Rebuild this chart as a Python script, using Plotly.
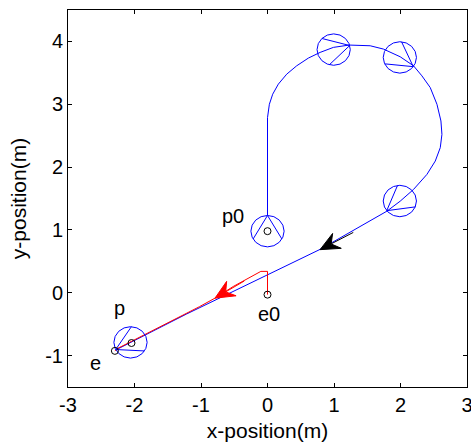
import numpy as np
import plotly.graph_objects as go

# ---------------- data ----------------
# Pursuer front-point trajectory (blue)
pursuer_x = [0.0, 0.0, 0.028, 0.078, 0.163, 0.289, 0.439, 0.615, 0.791, 0.991, 1.227,
             1.393, 1.544, 1.744, 1.995, 2.196, 2.322, 2.447, 2.548, 2.608, 2.623,
             2.598, 2.523, 2.397, 2.196, 1.995, 1.795, 0.79, 0.0, -1.22, -2.28]
pursuer_y = [1.23, 2.787, 3.0, 3.16, 3.32, 3.479, 3.612, 3.735, 3.825, 3.905, 3.942,
             3.942, 3.931, 3.878, 3.756, 3.612, 3.452, 3.266, 3.0, 2.734, 2.521,
             2.309, 2.096, 1.883, 1.644, 1.457, 1.298, 0.69, 0.29, -0.34, -0.91]

# Evader trajectory (red)
evader_x = [0.0, 0.0, -0.1, -0.515, -0.79, -1.02, -2.25, -2.295]
evader_y = [-0.03, 0.34, 0.34, 0.10, -0.086, -0.22, -0.884, -0.925]

# Robot body snapshots (centre, heading)
robot_cx = [0.0, 0.995, 1.99, 1.99, -2.06]
robot_cy = [0.98, 3.87, 3.745, 1.46, -0.79]
robot_heading_deg = [90, 15, -36, 218, 207]
robot_radius = 0.25

# Small position markers
marker_x = [0.0, 0.0, -2.045, -2.295]
marker_y = [0.98, -0.03, -0.80, -0.925]

# Point labels
label_text = ["p0", "e0", "p", "e"]
label_x = [-0.515, 0.027, -2.23, -2.59]
label_y = [1.22, -0.34, -0.246, -1.11]

# Direction arrows (tail -> tip)
arrow_tail_x = [1.29, -0.35]
arrow_tail_y = [0.96, 0.186]
arrow_tip_x = [0.79, -0.79]
arrow_tip_y = [0.686, -0.086]
arrow_color = ["black", "red"]

# Axis ticks
x_ticks = [-3, -2, -1, 0, 1, 2, 3]
x_tick_text = ["-3", "-2", "-1", "0", "1", "2", "3"]
y_ticks = [-1, 0, 1, 2, 3, 4]
y_tick_text = ["-1", "0", "1", "2", "3", "4"]

BLUE = "#0000ff"
RED = "#ff0000"
FONT = "Liberation Sans, Arial, sans-serif"

fig = go.Figure()

# trajectories
fig.add_trace(go.Scatter(x=pursuer_x, y=pursuer_y, mode="lines",
                         line=dict(color=BLUE, width=1), hoverinfo="skip"))
fig.add_trace(go.Scatter(x=evader_x, y=evader_y, mode="lines",
                         line=dict(color=RED, width=1), hoverinfo="skip"))

# robot bodies: circle + V from the front vertex
theta = np.linspace(0, 2 * np.pi, 17)
for cx, cy, hd in zip(robot_cx, robot_cy, robot_heading_deg):
    fig.add_trace(go.Scatter(x=cx + robot_radius * np.cos(theta),
                             y=cy + robot_radius * np.sin(theta),
                             mode="lines", line=dict(color=BLUE, width=1),
                             hoverinfo="skip"))
    a = np.deg2rad(np.array([hd + 120, hd, hd - 120]))
    fig.add_trace(go.Scatter(x=cx + robot_radius * np.cos(a),
                             y=cy + robot_radius * np.sin(a),
                             mode="lines", line=dict(color=BLUE, width=1),
                             hoverinfo="skip"))

# arrows
L, W, N = 0.29, 0.135, 0.19
for tx, ty, hx, hy, c in zip(arrow_tail_x, arrow_tail_y, arrow_tip_x, arrow_tip_y, arrow_color):
    u = np.array([hx - tx, hy - ty])
    u = u / np.linalg.norm(u)
    n = np.array([-u[1], u[0]])
    tip = np.array([hx, hy])
    b1 = tip - L * u + W * n
    nt = tip - N * u
    b2 = tip - L * u - W * n
    fig.add_trace(go.Scatter(x=[tx, nt[0]], y=[ty, nt[1]], mode="lines",
                             line=dict(color=c, width=1), hoverinfo="skip"))
    poly = np.array([tip, b1, nt, b2, tip])
    fig.add_trace(go.Scatter(x=poly[:, 0], y=poly[:, 1], mode="lines",
                             fill="toself", fillcolor=c,
                             line=dict(color=c, width=1), hoverinfo="skip"))

# markers
fig.add_trace(go.Scatter(x=marker_x, y=marker_y, mode="markers",
                         marker=dict(symbol="circle-open", size=7,
                                     color="black", line=dict(width=1)),
                         hoverinfo="skip"))

# labels
for t, lx, ly in zip(label_text, label_x, label_y):
    fig.add_annotation(x=lx, y=ly, text=t, showarrow=False,
                       font=dict(family=FONT, size=20, color="black"),
                       xanchor="center", yanchor="middle")

axis_common = dict(showgrid=False, zeroline=False, showline=True,
                   linecolor="black", linewidth=1, mirror="ticks",
                   ticks="inside", ticklen=4, tickwidth=1, tickcolor="black",
                   ticklabeloverflow="allow",
                   tickfont=dict(family=FONT, size=20, color="black"))

fig.update_layout(
    width=471, height=443,
    margin=dict(l=68, r=4, t=10, b=56, autoexpand=False),
    paper_bgcolor="white", plot_bgcolor="white",
    showlegend=False,
    xaxis=dict(range=[-3, 3], tickmode="array", tickvals=x_ticks, ticktext=x_tick_text,
               automargin=False,
               title=dict(text="x-position(m)", font=dict(family=FONT, size=21, color="black"),
                          standoff=8),
               **axis_common),
    yaxis=dict(range=[-1.5, 4.5], tickmode="array", tickvals=y_ticks, ticktext=y_tick_text,
               automargin=False,
               title=dict(text="y-position(m)", font=dict(family=FONT, size=21, color="black"),
                          standoff=12),
               **axis_common),
)

fig.write_html("out.html")
